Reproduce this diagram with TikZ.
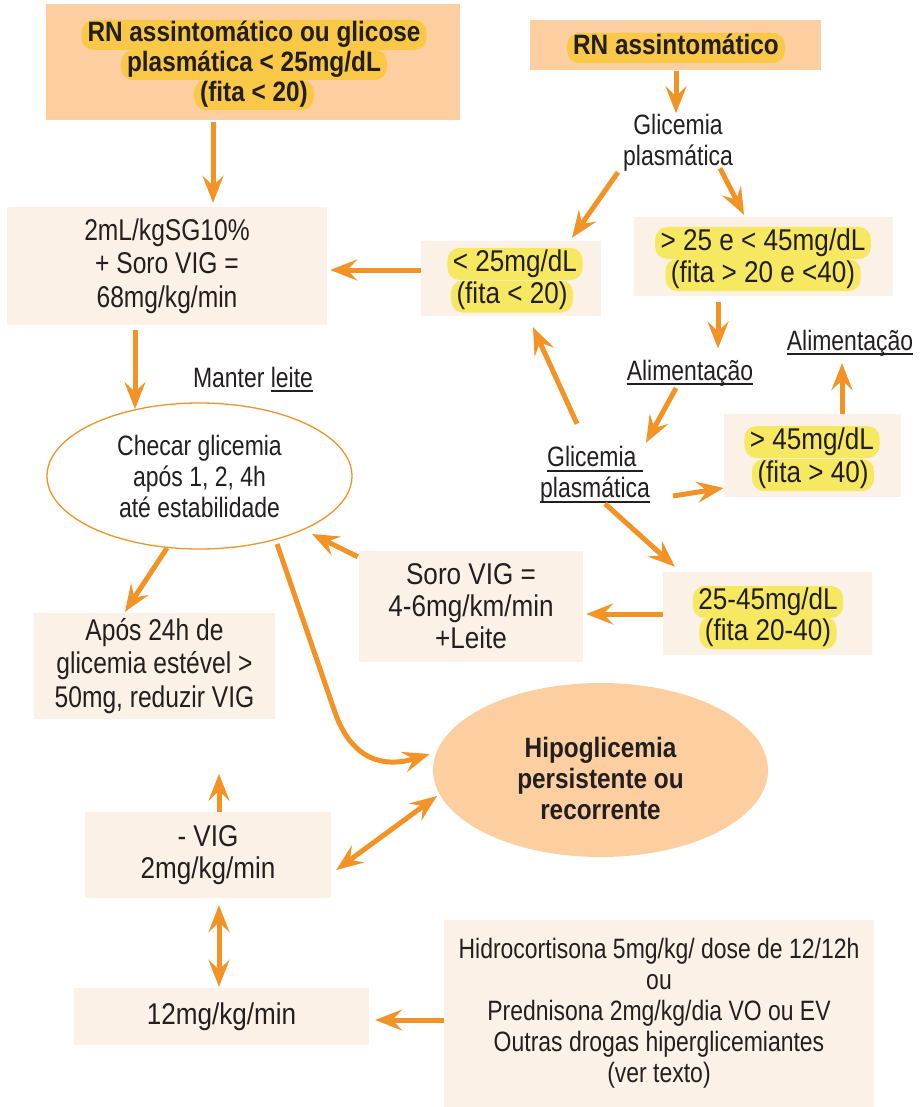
\documentclass[tikz,border=0pt]{standalone}
\usepackage{fontspec}
\usetikzlibrary{arrows.meta,shapes.geometric,calc}
\setmainfont{Liberation Sans}[FakeStretch=0.82]
\newfontfamily\heavyfont{Liberation Sans}[FakeStretch=0.87]
\newcommand{\boxfont}{\fontsize{28}{31}\selectfont}
\newcommand{\bigboxfont}{\fontsize{30}{33.5}\selectfont}
\newcommand{\roomyfont}{\heavyfont\fontsize{30}{32}\selectfont}
\newcommand{\undr}[1]{\setbox0\hbox{#1}\rlap{\rule[-4.8pt]{\wd0}{1.8pt}}\box0}
\definecolor{tangerine}{RGB}{243, 147, 37}
\definecolor{apricot}{RGB}{253, 206, 159}
\definecolor{linen}{RGB}{251, 241, 230}
\definecolor{goldhl}{RGB}{249, 200, 70}
\definecolor{lemonhl}{RGB}{247, 232, 98}
\definecolor{ink}{RGB}{35, 31, 32}
\tikzset{>={Stealth[length=27pt,width=21pt,inset=10pt]}}
\tikzset{arrow/.style={->,line width=5pt,tangerine}}
\tikzset{twoarrow/.style={<->,line width=5pt,tangerine}}
\tikzset{peachbox/.style={rectangle,fill=apricot,inner sep=0pt}}
\tikzset{creambox/.style={rectangle,fill=linen,inner sep=0pt,align=center,text=ink,font=\boxfont}}
\tikzset{label/.style={inner sep=0pt,align=center,text=ink,font=\boxfont}}
\tikzset{goldline/.style={fill=goldhl,rounded corners=12pt,minimum height=30pt,inner xsep=6pt,inner ysep=0pt,text height=20pt,text depth=6pt,text=ink,font=\heavyfont\bfseries\boxfont}}
\tikzset{lemonline/.style={fill=lemonhl,rounded corners=12pt,minimum height=32pt,inner xsep=5.5pt,inner ysep=0pt,text height=21pt,text depth=6.5pt,text=ink,font=\roomyfont}}
\tikzset{checkoval/.style={ellipse,draw=tangerine,line width=1.3pt,fill=white,minimum width=305pt,minimum height=146pt,inner sep=0pt,align=center,text=ink,font=\boxfont}}
\tikzset{hypooval/.style={ellipse,fill=apricot,minimum width=335pt,minimum height=174pt,inner sep=0pt}}
\tikzset{hypotext/.style={inner sep=0pt,align=center,text=ink,font=\heavyfont\bfseries\boxfont}}

\begin{document}
\begin{tikzpicture}[x=1pt,y=-1pt]
	\useasboundingbox (0,0) rectangle (919,1107);
	\node[peachbox,minimum width=414pt,minimum height=116pt] (rnfull) at (253,62) {};
	\node[goldline] (rnfull1) at (254,35) {RN assintomático ou glicose};
	\node[goldline] (rnfull2) at (254,65) {plasmática < 25mg/dL};
	\node[goldline] (rnfull3) at (254,95) {(fita < 20)};
	\node[peachbox,minimum width=291pt,minimum height=50pt] (rn) at (675.5,45) {};
	\node[goldline] (rn1) at (676,48) {RN assintomático};
	\node[label] (glic1) at (678,143) {Glicemia\\plasmática};
	\node[creambox,font=\bigboxfont,minimum width=320pt,minimum height=118pt] (bolus) at (167,266) {2mL/kgSG10\%\\+ Soro VIG =\\68mg/kg/min};
	\node[creambox,minimum width=180pt,minimum height=75pt] (low) at (511,278.5) {};
	\node[lemonline] (low1) at (515,264) {< 25mg/dL};
	\node[lemonline] (low2) at (512,296.5) {(fita < 20)};
	\node[creambox,minimum width=259pt,minimum height=79pt] (mid) at (763.5,256.5) {};
	\node[lemonline] (mid1) at (763,243) {> 25 e < 45mg/dL};
	\node[lemonline] (mid2) at (763,275) {(fita > 20 e <40)};
	\node[label,anchor=base] (feed1) at (690,380) {\undr{Alimentação}};
	\node[label,anchor=base] (feed2) at (850,350) {\undr{Alimentação}};
	\node[label] (glic2) at (595,475) {\undr{Glicemia\ }\\\undr{plasmática}};
	\node[creambox,minimum width=177pt,minimum height=83pt] (high) at (812.5,455.5) {};
	\node[lemonline] (high1) at (812,442) {> 45mg/dL};
	\node[lemonline] (high2) at (813,475) {(fita > 40)};
	\node[creambox,minimum width=209pt,minimum height=83pt] (border) at (767.5,613.5) {};
	\node[lemonline] (border1) at (768,602) {25-45mg/dL};
	\node[lemonline] (border2) at (768,633) {(fita 20-40)};
	\node[creambox,font=\roomyfont,minimum width=224pt,minimum height=111pt] (drip) at (471,606.5) {Soro VIG =\\4-6mg/km/min\\+Leite};
	\node[label,anchor=base] (milk) at (253,387) {Manter \undr{leite}};
	\node[checkoval] (check) at (199.5,476) {Checar glicemia\\após 1, 2, 4h\\até estabilidade};
	\node[creambox,font=\bigboxfont,minimum width=241pt,minimum height=106pt] (wean) at (154.5,666) {Após 24h de\\glicemia estével >\\50mg, reduzir VIG};
	\node[hypooval] (persist) at (600.5,770) {};
	\node[hypotext] (persisttext) at (600.5,778) {Hipoglicemia\\persistente ou\\recorrente};
	\node[creambox,font=\roomyfont,minimum width=246pt,minimum height=86pt] (minus) at (208,855) {- VIG\\2mg/kg/min};
	\node[creambox,font=\roomyfont,minimum width=295pt,minimum height=57pt] (max) at (221.5,1016.5) {12mg/kg/min};
	\node[creambox,minimum width=430pt,minimum height=187pt] (drugs) at (659,1013.5) {Hidrocortisona 5mg/kg/ dose de 12/12h\\ou\\Prednisona 2mg/kg/dia VO ou EV\\Outras drogas hiperglicemiantes\\(ver texto)};
	\coordinate (stepup) at ($(minus.north)+(11,-38)$);
	\draw[arrow] ($(rnfull.south)+(-40,2)$) -- ($(bolus.north)+(46,-4)$);
	\draw[arrow] ($(rn.south)+(0.5,1)$) -- ($(glic1.north)+(-2,-1)$);
	\draw[arrow] ($(glic1.south)+(-60,0.5)$) -- ($(low.north)+(61,-3)$);
	\draw[arrow] ($(glic1.south)+(42,-3.5)$) -- ($(mid.north)+(-19.5,-2)$);
	\draw[arrow] ($(low.west)+(0,-8.5)$) -- ($(bolus.east)+(3,4)$);
	\draw[arrow] ($(mid.south)+(-45.5,6)$) -- ($(feed1.north)+(28,-11)$);
	\draw[arrow] ($(feed1.south)+(-14,2)$) -- ($(glic2.north)+(51,-3.5)$);
	\draw[arrow] ($(glic2.north)+(-18,-22.5)$) -- ($(low.south)+(22,11)$);
	\draw[arrow] ($(glic2)+(78,21)$) -- ($(high.west)+(0,32.5)$);
	\draw[arrow] ($(high.north)+(29.5,0)$) -- ($(feed2.south)+(-8,7)$);
	\draw[arrow] ($(glic2.south)+(10,0)$) -- ($(border.north)+(-92.5,-5)$);
	\draw[arrow] ($(border.west)+(0,0.5)$) -- ($(drip.east)+(3,7.5)$);
	\draw[arrow] ($(drip.north west)+(-1,6)$) -- ($(check)+(112.5,58)$);
	\draw[arrow] ($(bolus.south)+(-32,5)$) -- ($(check)+(-64.5,-67)$);
	\draw[arrow] ($(check)+(-32.5,72)$) -- ($(wean.north)+(-29.5,-1)$);
	\draw[arrow] ($(check)+(77.5,68)$) -- ($(check)+(135,235)$) .. controls ($(check)+(152,285)$) and ($(persist.west)+(-48,-2)$) .. ($(persist.west)+(-3,-16)$);
	\draw[arrow] ($(minus.north)+(11,0)$) -- (stepup);
	\draw[twoarrow] ($(minus.east)+(5,15)$) -- ($(persist)+(-163.5,26)$);
	\draw[twoarrow] ($(minus.south)+(11,7)$) -- ($(max.north)+(-2.5,-1)$);
	\draw[arrow] ($(drugs.west)+(0,6.5)$) -- ($(max.east)+(6,3.5)$);
\end{tikzpicture}
\end{document}
